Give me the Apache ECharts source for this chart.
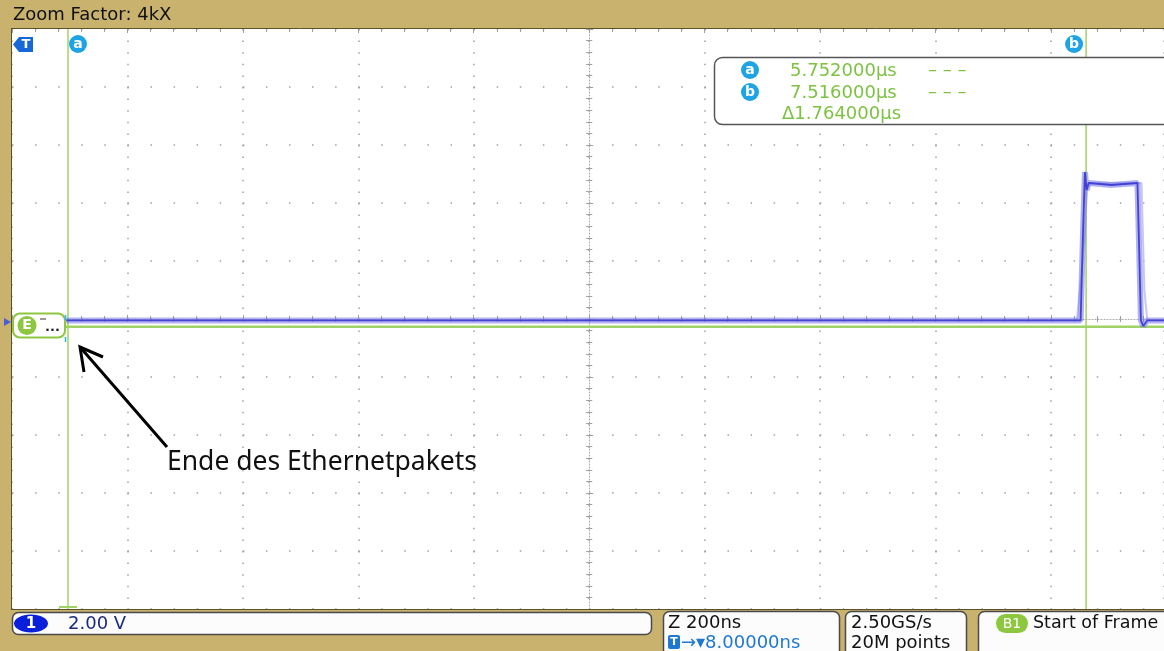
<!DOCTYPE html>
<html>
<head>
<meta charset="utf-8">
<script src="https://cdn.jsdelivr.net/npm/echarts@6/dist/echarts.min.js"></script>
<style>
  html, body { margin: 0; padding: 0; background: #c8b26e; }
  #chart { width: 1164px; height: 651px; }
</style>
</head>
<body>
<div id="chart"></div>
<script>
// scope settings: Z 200ns/div horizontally, 2.00 V/div vertically
const divTime = 0.2          // µs per division
const screenCenter = 6.655   // µs at the centre graticule line
const xMaxDiv = 4.98         // the screenshot cuts the last few pixels of the 10th division

// channel 1 (µs / V)
const traceTimes = [5.749, 6.2, 6.7, 7.2, 7.5065, 7.511, 7.514, 7.517, 7.5203, 7.56, 7.605, 7.608, 7.611, 7.615, 7.622, 7.657]
const traceVolts = [-0.05, -0.05, -0.05, -0.05, -0.05, 3.2, 5.07, 4.45, 4.69, 4.62, 4.69, 2.4, -0.05, -0.24, -0.05, -0.05]

// fainter persistence trace of the same pulse
const ghostTimes = [7.5, 7.51, 7.518, 7.524, 7.612, 7.617, 7.622]
const ghostVolts = [-0.05, 2.0, 4.5, 4.69, 4.69, 1.0, -0.05]

// bus B1 level line
const busTimes = [5.748, 7.657]
const busVolts = [-0.27, -0.27]

// cursors
const cursorA = 5.752
const cursorB = 7.516
const readout = ['5.752000µs', '7.516000µs', 'Δ1.764000µs']

const toDiv = t => (t - screenCenter) / divTime
const pts = (ts, vs) => ts.map((t, i) => [toDiv(t), vs[i]])
const cursorPts = t => [[toDiv(t), -10], [toDiv(t), 10]]

const GREEN = '#7dc242'
const CUR_BLUE = '#1ea3e4'
const FONT = 'DejaVu Sans'
const dotGray = '#a0a0a0'

const chart = echarts.init(document.getElementById('chart'))

const rect = { left: 12, top: 29, right: 0, height: 580 }

function edgeX(gridIndex, position, extra) {
  return Object.assign({
    type: 'value', gridIndex, position, min: -5, max: xMaxDiv, interval: 1,
    axisLine: { show: false },
    axisLabel: { show: false },
    axisTick: { show: true, inside: true, length: 4, lineStyle: { color: dotGray } },
    minorTick: { show: true, splitNumber: 5, length: 3, lineStyle: { color: dotGray } },
    splitLine: { show: false }
  }, extra || {})
}
function edgeY(gridIndex, position, extra) {
  return Object.assign({
    type: 'value', gridIndex, position, min: -10, max: 10, interval: 2,
    axisLine: { show: false },
    axisLabel: { show: false },
    axisTick: { show: true, inside: true, length: 4, lineStyle: { color: dotGray } },
    minorTick: { show: true, splitNumber: 5, length: 3, lineStyle: { color: dotGray } },
    splitLine: { show: false }
  }, extra || {})
}

const centerLine = { show: true, onZero: true, lineStyle: { color: '#a8a8a8', width: 1, type: [1, 2] } }

chart.setOption({
  animation: false,
  backgroundColor: '#c8b26e',
  grid: [
    Object.assign({ backgroundColor: '#ffffff', show: true, borderWidth: 0 }, rect),
    Object.assign({}, rect),
    Object.assign({}, rect)
  ],
  xAxis: [
    edgeX(0, 'bottom', { splitLine: { show: true, lineStyle: { color: dotGray, width: 1.5, type: [1.5, 10.1] } } }),
    edgeX(0, 'top'),
    edgeX(1, 'bottom', { axisLine: centerLine, axisTick: { show: true, inside: true, length: 3, lineStyle: { color: dotGray } } }),
    edgeX(2, 'bottom', { axisLine: { show: false, onZero: true }, axisTick: { show: true, inside: false, length: 3, lineStyle: { color: dotGray } } })
  ],
  yAxis: [
    edgeY(0, 'left', { splitLine: { show: true, lineStyle: { color: dotGray, width: 1.5, type: [1.5, 21.58] } } }),
    edgeY(1, 'left', { axisLine: centerLine, axisTick: { show: true, inside: true, length: 3, lineStyle: { color: dotGray } } }),
    edgeY(2, 'left', { axisLine: { show: false, onZero: true }, axisTick: { show: true, inside: false, length: 3, lineStyle: { color: dotGray } } })
  ],
  series: [
    {
      name: 'cursor a', type: 'line', xAxisIndex: 0, yAxisIndex: 0, symbol: 'none',
      data: cursorPts(cursorA), lineStyle: { color: '#8cc63f', width: 1.2 }, z: 2
    },
    {
      name: 'cursor b', type: 'line', xAxisIndex: 0, yAxisIndex: 0, symbol: 'none',
      data: cursorPts(cursorB), lineStyle: { color: '#8cc63f', width: 1.2 }, z: 2
    },
    {
      name: 'ghost', type: 'line', xAxisIndex: 0, yAxisIndex: 0, symbol: 'none',
      data: pts(ghostTimes, ghostVolts),
      lineStyle: { color: '#b9b9f2', width: 2, opacity: 0.8 }, z: 3
    },
    {
      name: 'B1', type: 'line', xAxisIndex: 0, yAxisIndex: 0, symbol: 'none',
      data: pts(busTimes, busVolts),
      lineStyle: { color: '#9fd366', width: 2.5 }, z: 3
    },
    {
      name: 'CH1 band', type: 'line', xAxisIndex: 0, yAxisIndex: 0, symbol: 'none',
      data: pts(traceTimes, traceVolts),
      lineStyle: { color: '#7474e6', width: 6, opacity: 0.55 }, z: 4
    },
    {
      name: 'CH1', type: 'line', xAxisIndex: 0, yAxisIndex: 0, symbol: 'none',
      data: pts(traceTimes, traceVolts),
      lineStyle: { color: '#4242d4', width: 1.8 }, z: 5
    }
  ]
})

// cursor badges follow the cursor positions
const pa = chart.convertToPixel({ gridIndex: 0 }, [toDiv(cursorA), 0])
const pb = chart.convertToPixel({ gridIndex: 0 }, [toDiv(cursorB), 0])

function badge(x, y, letter, fill, r) {
  return [
    { type: 'circle', shape: { cx: x, cy: y, r: r || 9 }, style: { fill: fill }, z: 20 },
    { type: 'text', x: x, y: y, z: 21, style: { text: letter, fill: '#fff', font: 'bold 14px ' + FONT, align: 'center', verticalAlign: 'middle' } }
  ]
}
function box(x, y, w, h) {
  return { type: 'rect', shape: { x, y, width: w, height: h, r: 6 }, style: { fill: '#fcfcfc', stroke: '#4a4a4a', lineWidth: 1.5 }, z: 20 }
}
function txt(x, y, s, color, size, extra) {
  return { type: 'text', x, y, z: 22, style: Object.assign({ text: s, fill: color, font: (size || 18) + 'px ' + FONT, verticalAlign: 'middle' }, extra || {}) }
}

const graphics = [
  // header and frame
  txt(13, 15, 'Zoom Factor: 4kX', '#111', 18),
  { type: 'line', shape: { x1: 11.5, y1: 28, x2: 11.5, y2: 610 }, style: { stroke: '#5c522c', lineWidth: 1 }, z: 20 },
  { type: 'line', shape: { x1: 11, y1: 28.5, x2: 1164, y2: 28.5 }, style: { stroke: '#5c522c', lineWidth: 1 }, z: 20 },
  { type: 'line', shape: { x1: 11, y1: 609.5, x2: 1164, y2: 609.5 }, style: { stroke: '#5c522c', lineWidth: 1 }, z: 20 },
  { type: 'line', shape: { x1: pa[0] - 9, y1: 607, x2: pa[0] + 9, y2: 607 }, style: { stroke: '#9fd366', lineWidth: 2 }, z: 20 },

  // trigger marker
  { type: 'polygon', shape: { points: [[13, 44.5], [19, 37], [33, 37], [33, 52], [19, 52]] }, style: { fill: '#1668d8' }, z: 20 },
  txt(26, 45, 'T', '#fff', 13, { font: 'bold 13px ' + FONT, align: 'center' }),

  ...badge(pa[0] + 10, 44, 'a', CUR_BLUE),
  ...badge(pb[0] - 12, 44, 'b', CUR_BLUE),

  // cursor readout
  { type: 'rect', shape: { x: 714.5, y: 57.5, width: 470, height: 67, r: 8 }, style: { fill: '#fff', stroke: '#555', lineWidth: 1.5 }, z: 19 },
  ...badge(750, 70, 'a', CUR_BLUE),
  ...badge(750, 92, 'b', CUR_BLUE),
  txt(790, 71, readout[0], GREEN, 18),
  txt(790, 93, readout[1], GREEN, 18),
  txt(782, 114, readout[2], GREEN, 18),
  txt(928, 70, '– – –', GREEN, 18),
  txt(928, 92, '– – –', GREEN, 18),

  // bus label on the left
  { type: 'rect', shape: { x: 13, y: 313.5, width: 52, height: 24, r: 7 }, style: { fill: '#fff', stroke: '#8dc63f', lineWidth: 2 }, z: 20 },
  ...badge(27, 325.5, 'E', '#8dc63f', 9.5),
  { type: 'line', shape: { x1: 40, y1: 319, x2: 46, y2: 319 }, style: { stroke: '#333', lineWidth: 1 }, z: 21 },
  txt(45, 328, '...', '#222', 13, { font: 'bold 13px ' + FONT }),
  { type: 'line', shape: { x1: 65.5, y1: 315, x2: 65.5, y2: 320 }, style: { stroke: '#29b6e8', lineWidth: 1.5 }, z: 21 },
  { type: 'line', shape: { x1: 65.5, y1: 337, x2: 65.5, y2: 342 }, style: { stroke: '#29b6e8', lineWidth: 1.5 }, z: 21 },
  { type: 'polygon', shape: { points: [[4, 318], [11, 322], [4, 326]] }, style: { fill: '#4a5fd8' }, z: 21 },

  // annotation
  { type: 'polyline', shape: { points: [[167, 447], [80, 347]] }, style: { stroke: '#000', lineWidth: 3 }, z: 22 },
  { type: 'polyline', shape: { points: [[103, 357], [80, 347], [84, 372]] }, style: { stroke: '#000', lineWidth: 3 }, z: 22 },
  txt(167, 462, 'Ende des Ethernetpakets', '#111', 26, { font: '26.5px "Noto Sans"' }),

  // status bar
  box(12.5, 612.5, 639, 22),
  { type: 'ellipse', shape: { cx: 31, cy: 623.5, rx: 17, ry: 9 }, style: { fill: '#0a1fd9' }, z: 21 },
  txt(31, 624, '1', '#fff', 15, { font: 'bold 15px ' + FONT, align: 'center' }),
  txt(68, 624, '2.00 V', '#1b2a80', 18),

  box(663.5, 611.5, 176, 50),
  txt(668, 623, 'Z 200ns', '#111', 18),
  { type: 'rect', shape: { x: 668, y: 635, width: 12, height: 14, r: 2 }, style: { fill: '#1e78d0' }, z: 21 },
  txt(674, 642.5, 'T', '#fff', 11, { font: 'bold 11px ' + FONT, align: 'center' }),
  txt(681, 643, '→▾8.00000ns', '#1e78d0', 18),

  box(845.5, 611.5, 121, 50),
  txt(851, 623, '2.50GS/s', '#111', 18),
  txt(851, 643, '20M points', '#111', 18),

  box(978.5, 611.5, 200, 50),
  { type: 'rect', shape: { x: 996, y: 614, width: 32, height: 19, r: 9.5 }, style: { fill: '#8dc63f' }, z: 21 },
  txt(1012, 624, 'B1', '#fff', 14, { align: 'center' }),
  txt(1033, 623, 'Start of Frame', '#111', 17.5)
]

chart.setOption({ graphic: graphics })
</script>
</body>
</html>
